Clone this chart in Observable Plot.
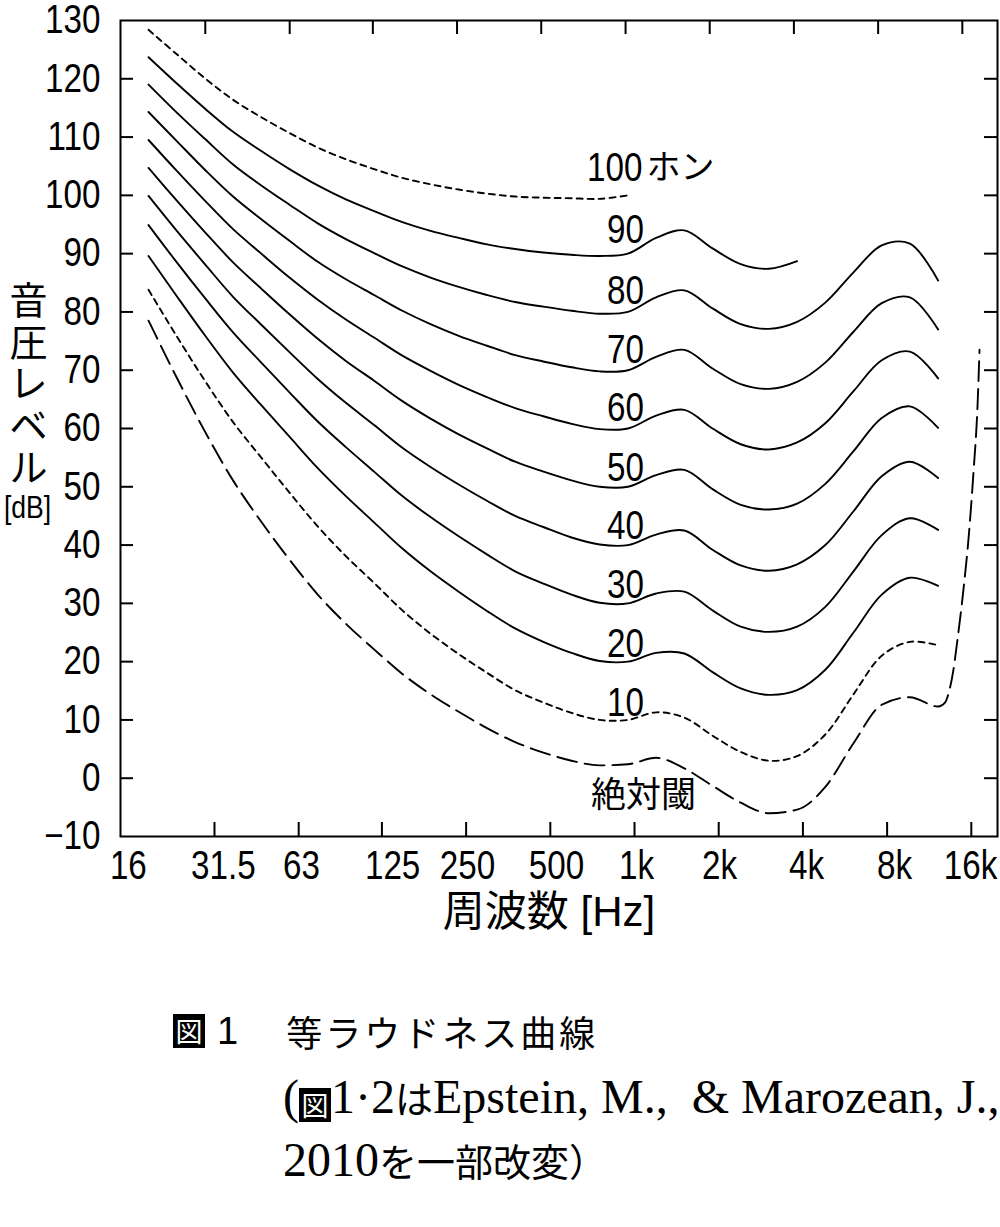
<!DOCTYPE html>
<html>
<head>
<meta charset="utf-8">
<script src="https://cdn.jsdelivr.net/npm/d3@7"></script>
<script src="https://cdn.jsdelivr.net/npm/@observablehq/plot@0.6"></script>
<style>
  html, body { margin: 0; padding: 0; background: #fff; }
  body { position: relative; width: 1000px; height: 1227px; overflow: hidden; }
  #chart svg { display: block; }
  .cap { position: absolute; white-space: nowrap; color: #000; }
  .l1 { left: 173px; top: 1008px; height: 40px; line-height: 40px; font-family: "Noto Sans CJK JP", sans-serif; }
  .l2 { left: 283px; top: 1072px; height: 50px; line-height: 50px; font-family: "Liberation Serif", "Noto Sans CJK JP", serif; font-size: 36px; }
  .l3 { left: 283px; top: 1135px; height: 50px; line-height: 50px; font-family: "Liberation Serif", "Noto Sans CJK JP", serif; font-size: 36px; }
  .zu { display: inline-block; background: #000; color: #fff; width: 32px; height: 34px; line-height: 34px;
        font-size: 27px; text-align: center; vertical-align: middle; font-family: "Noto Sans CJK JP", sans-serif; }
  .one { font-family: "Liberation Sans", sans-serif; font-size: 38px; margin-left: 12px; vertical-align: middle; }
  .t1 { font-size: 36px; letter-spacing: 3px; margin-left: 48px; vertical-align: middle; }
  .lat { font-size: 48px; }
  .cj { font-size: 38px; font-family: "Noto Sans CJK JP", sans-serif; }
</style>
</head>
<body>
<div id="chart"></div>
<div class="cap l1"><span class="zu">図</span><span class="one">1</span><span class="t1">等ラウドネス曲線</span></div>
<div class="cap l2"><span class="lat">(</span><span class="zu">図</span><span class="lat">1·2</span><span class="cj">は</span><span class="lat">Epstein, M.,&nbsp; &amp; Marozean, J.,</span></div>
<div class="cap l3"><span class="lat">2010</span><span class="cj">を一部改変）</span></div>
<script>
// ---- data (frequency positions on the axis in Hz, levels in dB) ----
const freqHz = [18.3, 23.1, 29.1, 36.7, 46.3, 58.4, 73.7, 92.9, 117.2, 147.9, 186.5, 235.2, 296.7, 374.2, 472.0,
  595.4, 750.8, 947.1, 1194.6, 1506.7, 1900.6, 2397, 3023, 3814, 4810, 6067, 7653, 9652, 12174];

const phon100 = [128.4, 124.2, 120.1, 116.4, 113.4, 110.7, 108.2, 106.2, 104.5, 103.0, 101.9, 101.0, 100.3, 99.8, 99.6, 99.5, 99.4, 100.0];
const phon90 = [123.7, 119.2, 114.9, 110.9, 107.6, 104.5, 101.7, 99.3, 97.3, 95.4, 93.9, 92.7, 91.6, 90.8, 90.2, 89.8, 89.6, 90.0, 92.7, 94.0, 90.9, 88.2, 87.4, 88.7];
const phon80 = [119.0, 114.2, 109.7, 105.3, 101.7, 98.4, 95.2, 92.5, 90.1, 87.8, 85.9, 84.3, 82.9, 81.7, 80.9, 80.2, 79.7, 80.0, 82.5, 83.7, 80.6, 77.9, 77.1, 78.3, 81.6, 86.8, 91.4, 91.7, 85.4];
const phon70 = [114.3, 109.3, 104.4, 99.8, 95.9, 92.2, 88.6, 85.6, 82.9, 80.2, 77.9, 75.9, 74.2, 72.6, 71.5, 70.5, 69.8, 70.0, 72.3, 73.5, 70.3, 67.6, 66.8, 68.0, 71.3, 76.6, 81.5, 82.5, 77.0];
const phon60 = [109.5, 104.2, 99.1, 94.2, 90.0, 85.9, 82.1, 78.7, 75.6, 72.5, 69.9, 67.5, 65.4, 63.5, 62.1, 60.8, 59.9, 60.0, 62.2, 63.2, 60.0, 57.3, 56.4, 57.6, 60.9, 66.4, 71.7, 73.2, 68.6];
const phon50 = [104.7, 99.1, 93.7, 88.5, 84.0, 79.6, 75.4, 71.6, 68.2, 64.7, 61.7, 59.0, 56.6, 54.3, 52.6, 51.1, 50.0, 50.0, 52.0, 52.9, 49.6, 46.9, 46.1, 47.1, 50.5, 56.1, 61.8, 63.8, 60.1];
const phon40 = [99.9, 93.9, 88.2, 82.6, 77.8, 73.1, 68.5, 64.4, 60.6, 56.7, 53.4, 50.4, 47.6, 45.0, 43.1, 41.3, 40.1, 40.0, 41.8, 42.5, 39.2, 36.5, 35.6, 36.7, 40.0, 45.8, 51.8, 54.3, 51.5];
const phon30 = [94.9, 88.5, 82.4, 76.5, 71.3, 66.2, 61.2, 56.8, 52.6, 48.4, 44.8, 41.5, 38.4, 35.5, 33.4, 31.5, 30.1, 30.0, 31.7, 32.0, 28.8, 26.0, 25.1, 26.0, 29.4, 35.5, 41.7, 44.6, 42.6];
const phon20 = [89.6, 82.7, 76.0, 69.6, 64.0, 58.6, 53.2, 48.4, 43.9, 39.4, 35.5, 32.0, 28.7, 25.7, 23.4, 21.5, 20.1, 20.0, 21.5, 21.4, 18.2, 15.4, 14.3, 15.1, 18.6, 25.0, 31.5, 34.4, 33.0];
const phon10 = [83.8, 75.8, 68.2, 61.1, 55.0, 49.0, 43.2, 38.1, 33.5, 28.8, 24.8, 21.3, 18.1, 15.1, 13.0, 11.2, 10.0, 10.0, 11.3, 10.4, 7.3, 4.5, 3.0, 3.8, 7.5, 14.4, 21.0, 23.4, 22.8];
const threshold = [78.5, 68.7, 59.5, 51.1, 44.0, 37.5, 31.5, 26.5, 22.1, 17.9, 14.4, 11.4, 8.6, 6.2, 4.4, 3.0, 2.2, 2.4, 3.5, 1.7, -1.3, -4.2, -6.0, -5.4, -1.5, 6.0, 12.6, 13.9, 12.3];
const thresholdExtHz = [12900, 13260, 13800, 14280, 15000, 15630, 16290, 16840, 17120];
const thresholdExtDb = [13.0, 14.5, 18.5, 23.8, 32.4, 41.0, 52.5, 63.9, 73.5];

const xTickHz = [31.5, 63, 125, 250, 500, 1000, 2000, 4000, 8000, 16000];
const xTopTickHz = [29.2, 58.5, 116, 232, 464, 929, 1857, 3714, 7430, 14860];
// where each printed frequency label sits along the axis
const xLabelHz = [15.5, 33.9, 64.5, 136.5, 252.9, 525.8, 1017, 2013, 4121, 8501, 15896];
const xLabelText = ["16", "31.5", "63", "125", "250", "500", "1k", "2k", "4k", "8k", "16k"];
const yTickDb = [0, 10, 20, 30, 40, 50, 60, 70, 80, 90, 100, 110, 120];
const yLabelDb = [-10, 0, 10, 20, 30, 40, 50, 60, 70, 80, 90, 100, 110, 120, 130];

const curveLabelText = ["90", "80", "70", "60", "50", "40", "30", "20", "10"];
const curveLabelDb = [94.0, 83.6, 73.5, 63.4, 53.2, 43.2, 33.1, 23.0, 12.9];
const curveLabelHz = 929;
const topLabelNum = "100", topLabelUnit = "ホン", topLabelDb = 104.6, topLabelNumHz = 1068, topLabelUnitHz = 1104;
const thresholdLabel = "絶対閾", thresholdLabelHz = 1077, thresholdLabelDb = -3.1;
const xTitle = "周波数 [Hz]";
const yTitle = "音\n圧\nレ\nベ\nル";
const yUnit = "[dB]";

// ---- build tables ----
function rows(name, hz, db) { return db.map((v, i) => ({name, f: hz[i], db: v})); }
const solidRows = [
  ...rows("90", freqHz, phon90), ...rows("80", freqHz, phon80), ...rows("70", freqHz, phon70),
  ...rows("60", freqHz, phon60), ...rows("50", freqHz, phon50), ...rows("40", freqHz, phon40),
  ...rows("30", freqHz, phon30), ...rows("20", freqHz, phon20)
];
const dottedRows = [...rows("100", freqHz, phon100), ...rows("10", freqHz, phon10)];
const dashedRows = [...rows("thr", freqHz, threshold), ...rows("thr", thresholdExtHz, thresholdExtDb)];

const numFont = '"Liberation Sans","Noto Sans CJK JP",sans-serif';
const cjkFont = '"Noto Sans CJK JP","Liberation Sans",sans-serif';
const fmtDb = d => d < 0 ? "\u2212" + Math.abs(d) : String(d);

const plotW = 1000, plotH = 960, mL = 120, mR = 3, mT = 20, mB = 124;
const innerW = plotW - mL - mR, innerH = plotH - mT - mB;
const tickLenX = 14, tickLenY = 13;

const chart = Plot.plot({
  width: plotW, height: plotH,
  marginLeft: mL, marginRight: mR, marginTop: mT, marginBottom: mB,
  x: {type: "log", domain: [14.53, 19850], axis: null},
  y: {domain: [-10, 130], axis: null},
  style: {fontFamily: numFont, color: "#000", background: "#fff", overflow: "visible"},
  marks: [
    Plot.tickX(xTickHz, {x: d => d, insetTop: innerH - tickLenX, stroke: "#000", strokeWidth: 2}),
    Plot.tickX(xTopTickHz, {x: d => d, insetBottom: innerH - tickLenX, stroke: "#000", strokeWidth: 2}),
    Plot.tickY(yTickDb, {y: d => d, insetRight: innerW - tickLenY, stroke: "#000", strokeWidth: 2}),
    Plot.tickY(yTickDb, {y: d => d, insetLeft: innerW - tickLenY, stroke: "#000", strokeWidth: 2}),
    Plot.line(solidRows, {x: "f", y: "db", z: "name", curve: "catmull-rom", stroke: "#000", strokeWidth: 1.9}),
    Plot.line(dottedRows, {x: "f", y: "db", z: "name", curve: "catmull-rom", stroke: "#000", strokeWidth: 1.9, strokeDasharray: "6,5"}),
    Plot.line(dashedRows, {x: "f", y: "db", z: "name", curve: "monotone-x", stroke: "#000", strokeWidth: 1.9, strokeDasharray: "20,8"}),
    Plot.frame({stroke: "#000", strokeWidth: 2}),
    Plot.text(yLabelDb, {y: d => d, text: fmtDb, frameAnchor: "left", textAnchor: "end", dx: -20, fontSize: 40, fontFamily: numFont}),
    Plot.text(xLabelHz, {x: d => d, text: (d, i) => xLabelText[i], frameAnchor: "bottom", textAnchor: "middle", lineAnchor: "top", dy: 14, fontSize: 40, fontFamily: numFont}),
    Plot.text(curveLabelText, {x: () => curveLabelHz, y: (d, i) => curveLabelDb[i], text: d => d, fontSize: 40, fontFamily: numFont}),
    Plot.text([topLabelNum], {x: () => topLabelNumHz, y: () => topLabelDb, text: d => d, textAnchor: "end", fontSize: 40, fontFamily: numFont}),
    Plot.text([topLabelUnit], {x: () => topLabelUnitHz, y: () => topLabelDb, text: d => d, textAnchor: "start", fontSize: 34, fontFamily: cjkFont}),
    Plot.text([thresholdLabel], {x: () => thresholdLabelHz, y: () => thresholdLabelDb, text: d => d, fontSize: 35, fontFamily: cjkFont}),
    Plot.text([xTitle], {frameAnchor: "bottom", textAnchor: "middle", text: d => d, dx: -10, dy: 89, fontSize: 42, fontFamily: numFont}),
    Plot.text([yTitle], {frameAnchor: "left", textAnchor: "middle", text: d => d, dx: -92, dy: -44.5, fontSize: 38, lineHeight: 1.1, fontFamily: cjkFont}),
    Plot.text([yUnit], {frameAnchor: "left", textAnchor: "middle", text: d => d, dx: -93, dy: 79, fontSize: 32, fontFamily: numFont})
  ]
});
document.getElementById("chart").appendChild(chart);

// condense Latin-only labels (the reference uses a narrow sans face)
const narrow = 0.83;
d3.select(chart).selectAll("text").each(function () {
  if (/[\u3000-\u9fff\uff00-\uffef]/.test(this.textContent)) return;
  const len = this.getComputedTextLength();
  if (len > 0) {
    this.setAttribute("textLength", (len * narrow).toFixed(2));
    this.setAttribute("lengthAdjust", "spacingAndGlyphs");
  }
});
</script>
</body>
</html>
